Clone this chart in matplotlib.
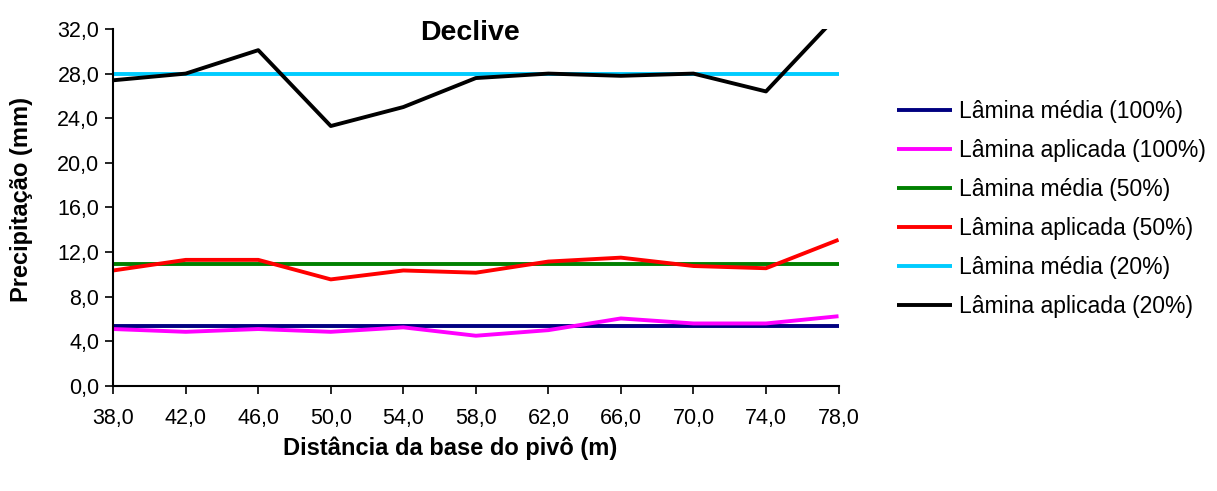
import numpy as np
import matplotlib
matplotlib.use('Agg')
import matplotlib.pyplot as plt
from matplotlib.ticker import FuncFormatter

plt.rcParams['font.family'] = ['Liberation Sans', 'DejaVu Sans']

# distance from pivot base (m)
distancia = [38, 42, 46, 50, 54, 58, 62, 66, 70, 74, 78]

media_100 = [5.4] * 11
aplicada_100 = [5.1, 4.85, 5.1, 4.85, 5.25, 4.5, 5.0, 6.05, 5.6, 5.6, 6.25]
media_50 = [10.9] * 11
aplicada_50 = [10.35, 11.3, 11.3, 9.55, 10.35, 10.15, 11.15, 11.5, 10.75, 10.55, 13.1]
media_20 = [28.0] * 11
aplicada_20 = [27.4, 28.0, 30.1, 23.3, 25.0, 27.6, 28.0, 27.8, 28.0, 26.4, 33.3]

series = [
    ('Lâmina média (100%)', media_100, '#000080'),
    ('Lâmina aplicada (100%)', aplicada_100, '#FF00FF'),
    ('Lâmina média (50%)', media_50, '#008000'),
    ('Lâmina aplicada (50%)', aplicada_50, '#FF0000'),
    ('Lâmina média (20%)', media_20, '#00CCFF'),
    ('Lâmina aplicada (20%)', aplicada_20, '#000000'),
]

fig = plt.figure(figsize=(12.17, 4.91), dpi=100)
ax = fig.add_axes([0.093, 0.214, 0.596, 0.727])

for label, vals, color in series:
    ax.plot(distancia, vals, color=color, lw=2.8, label=label, solid_capstyle='butt')

ax.set_xlim(38, 78)
ax.set_ylim(0, 32)
ax.set_xticks(distancia)
ax.set_yticks(np.arange(0, 33, 4))
fmt = FuncFormatter(lambda v, p: '{:.1f}'.format(v).replace('.', ','))
ax.xaxis.set_major_formatter(fmt)
ax.yaxis.set_major_formatter(fmt)
ax.tick_params(axis='both', labelsize=15.5, direction='out', length=6, width=1.2)
ax.tick_params(axis='x', pad=10)
ax.tick_params(axis='y', pad=4)

for s in ['top', 'right']:
    ax.spines[s].set_visible(False)
for s in ['left', 'bottom']:
    ax.spines[s].set_linewidth(1.5)

fig.text(0.386, 0.932, 'Declive', ha='center', va='center',
         fontsize=20.5, fontweight='bold')

fig.text(0.018, 0.593, 'Precipitação (mm)', rotation=90, ha='center', va='center',
         fontsize=17, fontweight='bold')
fig.text(0.37, 0.088, 'Distância da base do pivô (m)', ha='center', va='center',
         fontsize=17, fontweight='bold')

fig.legend(loc='upper left', bbox_to_anchor=(0.737, 0.797), frameon=False,
           fontsize=16.5, handlelength=2.4, handletextpad=0.3, labelspacing=0.70,
           borderpad=0, borderaxespad=0)

fig.savefig('out.png', dpi=100)
